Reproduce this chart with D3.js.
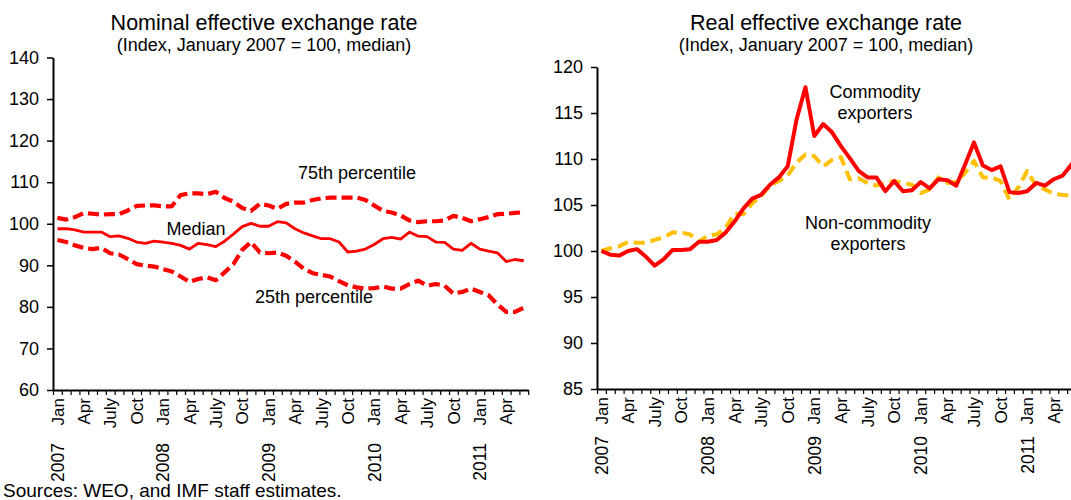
<!DOCTYPE html>
<html>
<head>
<meta charset="utf-8">
<script src="https://cdn.jsdelivr.net/npm/d3@7"></script>
<style>
  html, body { margin: 0; padding: 0; background: #fff; }
  svg { display: block; font-family: "Liberation Sans", Arial, sans-serif; }
</style>
</head>
<body>
<svg id="chart" width="1071" height="500"></svg>
<script>
// ---------------- DATA ----------------
const years = [2007, 2008, 2009, 2010, 2011];
const monthNames = ["Jan","Feb","Mar","Apr","May","June","July","Aug","Sep","Oct","Nov","Dec"];
const monthTickLabels = { 0: "Jan", 3: "Apr", 6: "July", 9: "Oct" };

// Nominal effective exchange rate (Jan 2007 - Jun 2011)
const nominalMedian = [98.8,98.8,98.5,98.0,98.0,98.0,96.9,97.1,96.5,95.6,
  95.3,95.8,95.6,95.3,94.8,93.9,95.3,95.0,94.5,95.8,
  97.5,99.3,100.1,99.4,99.4,100.5,100.2,98.8,97.8,97.1,
  96.4,96.4,95.6,93.2,93.4,93.9,95.0,96.4,96.7,96.3,
  98.0,97.0,96.9,95.6,95.5,93.9,93.6,95.3,93.9,93.4,
  93.0,90.9,91.4,91.1];
const nominalP75 = [101.4,101.0,101.6,102.6,102.4,102.2,102.3,102.3,103.2,104.3,
  104.4,104.4,104.2,104.2,106.9,107.3,107.3,107.1,107.7,106.2,
  105.3,103.8,103.1,104.8,104.4,103.6,104.8,105.1,105.1,105.7,
  106.1,106.3,106.3,106.3,106.3,105.7,104.4,103.1,102.7,102.0,
  100.8,100.4,100.6,100.6,100.8,101.9,101.4,100.6,101.1,101.6,
  102.3,102.4,102.6,102.8];
const nominalP25 = [96.1,95.6,94.8,94.2,93.9,94.2,92.9,92.6,91.5,90.3,
  89.9,89.7,89.1,88.5,87.3,86.0,86.7,87.1,86.4,88.3,
  90.3,93.7,95.6,93.1,92.9,93.1,92.3,90.9,89.2,88.1,
  87.7,87.3,86.2,85.2,84.7,84.4,84.5,84.9,84.4,84.4,
  85.5,86.3,85.1,85.5,85.1,83.2,83.6,84.4,83.6,82.8,
  80.6,78.8,78.8,79.8];

// Real effective exchange rate (Jan 2007 - Jul 2011, right end cut by the frame)
const realCommodity = [100.0,99.6,99.5,100.0,100.2,99.4,98.4,99.1,100.1,100.1,
  100.2,101.0,101.0,101.2,102.0,103.2,104.6,105.7,106.1,107.2,
  108.0,109.2,114.3,117.8,112.5,113.8,112.9,111.4,110.1,108.7,
  108.0,108.0,106.5,107.6,106.5,106.6,107.5,106.8,107.8,107.7,
  107.1,109.4,111.8,109.3,108.8,109.2,106.4,106.3,106.5,107.4,
  107.1,107.8,108.2,109.4,111.2];
const realNonCommodity = [100.0,100.3,100.5,101.0,100.9,100.9,101.2,101.5,102.0,102.0,
  101.8,101.0,101.7,101.8,102.5,104.1,104.0,105.2,106.0,107.1,
  107.6,108.2,109.6,110.5,110.3,109.2,109.9,110.2,107.8,107.9,
  107.4,107.1,107.4,107.6,107.4,107.2,106.3,106.7,108.0,107.4,
  107.5,108.5,109.8,108.0,108.0,107.6,105.6,106.9,108.7,107.1,
  106.7,106.2,106.1,106.0,105.8];

const leftYTicks = [60,70,80,90,100,110,120,130,140];
const rightYTicks = [85,90,95,100,105,110,115,120];

// categories (year, month index)
const categories = [];
years.forEach(y => monthNames.forEach((m, i) => categories.push({ year: y, month: i, name: y + " " + m })));

// ---------------- DRAW ----------------
const W = 1071;
const svg = d3.select("#chart");
svg.append("rect").attr("width", W).attr("height", 500).attr("fill", "#fff");

function panel(opts) {
  const n = opts.nCats;
  const cats = categories.slice(0, n);
  const x = d3.scaleBand().domain(d3.range(n)).range([opts.x0, opts.x0 + n * opts.bw]).padding(0);
  const xEdge = d3.scaleLinear().domain([0, n]).range([opts.x0, opts.x0 + n * opts.bw]);
  const y = d3.scaleLinear().domain(opts.yDomain).range([opts.yBottom, opts.yTop]);
  const g = svg.append("g");
  const cx = i => x(i) + x.bandwidth() / 2;

  // titles
  g.append("text").attr("x", opts.titleX).attr("y", 30).attr("text-anchor", "middle")
    .attr("font-size", 21.5).attr("fill", "#000").text(opts.title);
  g.append("text").attr("x", opts.titleX).attr("y", 51).attr("text-anchor", "middle")
    .attr("font-size", 18).attr("fill", "#000").text(opts.subtitle);

  // y axis
  const ya = g.append("g").attr("transform", `translate(${opts.x0},0)`)
    .call(d3.axisLeft(y).tickValues(opts.yTicks).tickSize(6).tickSizeOuter(0).tickPadding(8));
  ya.select(".domain").attr("stroke", "#000").attr("stroke-width", 2);
  ya.selectAll(".tick line").attr("stroke", "#000").attr("stroke-width", 1.5);
  ya.selectAll(".tick text").attr("font-size", 18).attr("font-family", "Liberation Sans, Arial, sans-serif").attr("fill", "#000");

  // x axis (ticks at category boundaries)
  const xa = g.append("g").attr("transform", `translate(0,${opts.yBottom})`)
    .call(d3.axisBottom(xEdge).tickValues(d3.range(n + 1)).tickSize(5).tickSizeOuter(0).tickFormat(""));
  xa.select(".domain").attr("stroke", "#000").attr("stroke-width", 2);
  xa.selectAll(".tick line").attr("stroke", "#000").attr("stroke-width", 1.2);

  // month labels (only those inside the frame)
  const idx = d3.range(n).filter(i => cx(i) + 8 < W);
  const labelIdx = idx.filter(i => monthTickLabels[cats[i].month] !== undefined);
  g.selectAll(".mlab").data(labelIdx).join("text")
    .attr("transform", i => `translate(${cx(i)},${opts.yBottom + 8}) rotate(-90)`)
    .attr("dy", "0.36em").attr("text-anchor", "end").attr("font-size", 17).attr("fill", "#000")
    .text(i => monthTickLabels[cats[i].month]);
  // year labels
  const yearIdx = idx.filter(i => cats[i].month === 0);
  g.selectAll(".ylab").data(yearIdx).join("text")
    .attr("transform", i => `translate(${cx(i)},${opts.yBottom + opts.yearOffset}) rotate(-90)`)
    .attr("dy", "0.36em").attr("text-anchor", "end").attr("font-size", 17.5).attr("fill", "#000")
    .text(i => cats[i].year);

  // series
  opts.series.forEach(s => {
    const line = d3.line().x((d, i) => cx(i)).y(d => y(d));
    g.append("path").datum(s.values).attr("d", line).attr("fill", "none")
      .attr("stroke", s.color).attr("stroke-width", s.width)
      .attr("stroke-dasharray", s.dash || null).attr("stroke-linejoin", "round");
  });

  // annotations
  opts.notes.forEach(nt => {
    const t = g.append("text").attr("x", nt.x).attr("y", nt.y).attr("text-anchor", "middle")
      .attr("font-size", 18).attr("fill", "#000");
    nt.lines.forEach((ln, i) => t.append("tspan").attr("x", nt.x).attr("dy", i === 0 ? 0 : 20.5).text(ln));
  });
}

panel({
  title: "Nominal effective exchange rate",
  subtitle: "(Index, January 2007 = 100, median)",
  titleX: 264,
  nCats: 54, x0: 53, bw: 8.8,
  yDomain: [60, 140], yBottom: 390, yTop: 57.5, yTicks: leftYTicks,
  yearOffset: 53,
  series: [
    { values: nominalP75, color: "#ff0000", width: 4.2, dash: "11,5" },
    { values: nominalP25, color: "#ff0000", width: 4.2, dash: "11,5" },
    { values: nominalMedian, color: "#ff0000", width: 2.8 }
  ],
  notes: [
    { x: 196, y: 235, lines: ["Median"] },
    { x: 357, y: 179, lines: ["75th percentile"] },
    { x: 314, y: 303, lines: ["25th percentile"] }
  ]
});

panel({
  title: "Real effective exchange rate",
  subtitle: "(Index, January 2007 = 100, median)",
  titleX: 826,
  nCats: 55, x0: 597, bw: 8.87,
  yDomain: [85, 120], yBottom: 389, yTop: 67, yTicks: rightYTicks,
  yearOffset: 47,
  series: [
    { values: realNonCommodity, color: "#ffc000", width: 4, dash: "11,6" },
    { values: realCommodity, color: "#ff0000", width: 4 }
  ],
  notes: [
    { x: 875, y: 98, lines: ["Commodity", "exporters"] },
    { x: 868, y: 229, lines: ["Non-commodity", "exporters"] }
  ]
});

svg.append("text").attr("x", 3).attr("y", 497).attr("font-size", 19).attr("fill", "#000")
  .text("Sources: WEO, and IMF staff estimates.");
</script>
</body>
</html>
